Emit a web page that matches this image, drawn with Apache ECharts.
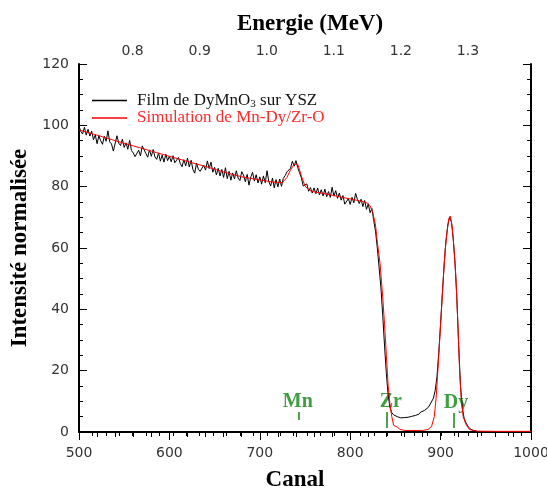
<!DOCTYPE html>
<html><head><meta charset="utf-8">
<script src="https://cdn.jsdelivr.net/npm/echarts@6/dist/echarts.min.js"></script>
<style>html,body{margin:0;padding:0;background:#fff}#c{width:547px;height:489px}</style>
</head><body><div id="c"></div>
<script>
// ---- data ----
const expName = 'Film de DyMnO3 sur YSZ';
const simName = 'Simulation de Mn-Dy/Zr-O';
const expStartChannel = 500;
const expChannelStep = 2;
const expIntensity = [
  99.8, 98.0, 97.2, 99.4, 96.8, 98.7, 96.5, 98.1, 95.3, 96.9, 94.0, 96.6, 95.0, 93.8, 96.4, 94.8,
  98.2, 94.6, 93.9, 91.6, 91.0, 96.6, 94.2, 93.4, 95.5, 92.8, 94.3, 92.2, 95.1, 91.8, 91.0,
  89.8, 89.4, 91.9, 90.0, 93.3, 92.9, 90.8, 89.6, 92.0, 89.9, 92.1, 89.7, 88.9, 91.0, 88.3, 90.3, 88.0, 90.6, 88.5, 89.9,
  88.1, 90.1, 87.8, 87.2, 89.5, 87.6, 86.5, 88.8, 86.8, 89.3, 86.4, 88.6, 85.6, 84.4, 87.7, 85.7, 85.0, 84.6, 87.0, 85.4,
  88.4, 85.9, 88.0, 84.7, 86.3, 83.8, 86.0, 83.5, 85.6, 83.0, 86.2, 82.6, 85.0, 82.1, 84.5, 82.5, 85.2, 82.8, 82.0, 84.9,
  83.8, 81.6, 84.0, 80.5, 83.1, 84.7, 81.8, 83.9, 81.2, 83.2, 80.8, 83.5, 81.3, 85.2, 81.6, 80.2, 82.8, 79.6, 82.3, 79.9, 82.5, 80.1, 82.7, 83.6, 84.8,
  84.3, 86.0, 88.3, 86.7, 88.5, 86.2, 84.5, 82.9, 80.2, 79.7, 80.9, 78.5, 79.7, 77.9, 79.6,
  77.7, 79.5, 77.3, 79.0, 77.0, 79.2, 76.7, 78.4, 76.5, 79.8, 76.9, 78.7, 76.2, 77.9, 75.6, 77.1, 74.3, 73.7, 76.1, 74.2,
  76.5, 74.7, 77.8, 75.8, 74.5, 75.9, 73.5, 75.5, 72.6, 74.4, 71.5, 72.9, 69.0, 65.5, 60.0,
  53.5, 47, 38, 28, 19, 12, 8, 6.3, 5.6, 5.2,
  5.0, 4.9, 4.6, 4.9, 4.7, 5.0, 4.8, 5.3, 5.1, 5.6, 5.4, 6.0, 5.8, 6.5, 6.3, 7.0, 7.6, 7.9, 8.8, 9.4,
  11, 13.5, 18, 26, 35.5, 45.5, 55, 62.5, 67.5, 70.2, 68.5, 63, 55, 43.5, 28.5, 15, 8, 4.5, 3.0, 2.0, 1.2, 0.8, 0.5, 0.4, 0.3
];
const simChannels = [500, 520, 540, 560, 580, 600, 620, 640, 660, 680, 700, 715, 725, 730, 734, 738, 742, 746, 750, 755, 760, 770, 780, 790, 800, 810, 815, 819, 822, 825, 828, 830, 833, 836, 838, 840, 842, 844, 846, 848, 852, 855, 860, 880, 886, 890, 893, 895, 897, 899, 901, 903, 905, 907, 909, 911, 913, 915, 917, 919, 921, 923, 925, 928, 932, 940, 960, 1000];
const simIntensity = [98.5, 96.8, 95.0, 93.3, 91.6, 89.9, 88.2, 86.6, 84.8, 83.2, 82.2, 81.5, 81.3, 83.0, 85.5, 87.3, 87.3, 83.5, 80.2, 78.8, 78.3, 77.8, 77.2, 76.6, 76.0, 75.4, 75.1, 74.6, 73.8, 71.5, 67.5, 62, 55, 44, 35, 25, 15, 9, 5, 2.2, 1.6, 0.9, 0.5, 0.5, 0.8, 1.8, 5, 11, 20, 30, 40, 50, 59, 65, 69.5, 70.3, 66.5, 59, 50, 36, 20, 10, 5, 2.5, 0.8, 0.3, 0.2, 0.2];
const elementNames = ['Mn', 'Zr', 'Dy'];
const elementTickChannels = [742.6, 840.4, 914.8];
const elementTickLow = [3.9, 1.3, 1.3];
const elementTickHigh = [6.5, 6.5, 6.2];
const elementLabelChannels = [742, 845, 917];
const channelTicksMin = 500, channelTicksMax = 1000, channelTickStep = 100;
const intensityMin = 0, intensityMax = 120, intensityStep = 20;
const energyMin = 0.72, energyMax = 1.394;
const energyLabels = [0.8, 0.9, 1.0, 1.1, 1.2, 1.3];
const energyTicks = [0.72, 0.74, 0.76, 0.78, 0.80, 0.82, 0.84, 0.86, 0.88, 0.90, 0.92, 0.94, 0.96, 0.98, 1.00, 1.02, 1.04, 1.06, 1.08, 1.10, 1.12, 1.14, 1.16, 1.18, 1.20, 1.22, 1.24, 1.26, 1.28, 1.30, 1.32, 1.34, 1.36, 1.38];

// ---- chart ----
const serif = '"Liberation Serif","Times New Roman",serif';
const sans = '"DejaVu Sans",Verdana,sans-serif';
const tickLabel = { fontFamily: sans, fontSize: 14, color: '#333' };
const nameStyle = { fontFamily: serif, fontSize: 23, fontWeight: 'bold', color: '#000' };
const green = '#128512';
const black = '#000';

const chart = echarts.init(document.getElementById('c'), null, { renderer: 'canvas' });
chart.setOption({
  animation: false,
  backgroundColor: '#fff',
  grid: { left: 79, right: 16, top: 64, bottom: 57, containLabel: false, outerBoundsMode: 'none' },
  legend: {
    left: 87, top: 87, orient: 'vertical', icon: 'rect',
    itemWidth: 35, itemHeight: 1.5, itemGap: 0,
    formatter: n => n.replace('O3', 'O{sub|3}'),
    textStyle: {
      fontFamily: serif, fontSize: 17, padding: [0, 0, 0, 5],
      rich: { sub: { fontFamily: serif, fontSize: 11, color: '#111', padding: [7, 0, 0, 0] } }
    },
    data: [
      { name: expName, textStyle: { color: '#111' } },
      { name: simName, textStyle: { color: '#ff2a2a' } }
    ]
  },
  xAxis: [
    {
      type: 'value', position: 'bottom', min: channelTicksMin, max: channelTicksMax, interval: channelTickStep,
      name: 'Canal', nameLocation: 'middle', nameGap: 37,
      nameTextStyle: Object.assign({ padding: [0, 20, 0, 0] }, nameStyle),
      axisLine: { show: true, lineStyle: { color: black, width: 2 } },
      axisTick: { show: true, inside: false, length: 8, lineStyle: { color: black } },
      minorTick: { show: true, splitNumber: 5, length: 5, lineStyle: { color: black } },
      axisLabel: Object.assign({ margin: 14, formatter: v => String(v) }, tickLabel),
      splitLine: { show: false }
    },
    {
      type: 'value', position: 'top', min: energyMin, max: energyMax,
      name: 'Energie (MeV)', nameLocation: 'middle', nameGap: 28,
      nameTextStyle: Object.assign({ padding: [0, 0, 0, 10] }, nameStyle),
      axisLine: { show: true, lineStyle: { color: black, width: 2 } },
      axisTick: { show: true, inside: true, length: 4, customValues: energyTicks, lineStyle: { color: black } },
      axisLabel: Object.assign({ margin: 6, customValues: energyLabels, formatter: v => v.toFixed(1) }, tickLabel),
      splitLine: { show: false }
    }
  ],
  yAxis: [
    {
      type: 'value', position: 'left', min: intensityMin, max: intensityMax, interval: intensityStep,
      name: 'Intensité normalisée', nameLocation: 'middle', nameGap: 45, nameTextStyle: nameStyle,
      axisLine: { show: true, lineStyle: { color: black, width: 2 } },
      axisTick: { show: true, inside: true, length: 8, lineStyle: { color: black } },
      minorTick: { show: true, splitNumber: 4, length: 4, lineStyle: { color: black } },
      axisLabel: Object.assign({ margin: 10 }, tickLabel),
      splitLine: { show: false }
    },
    {
      type: 'value', position: 'right', min: intensityMin, max: intensityMax, interval: intensityStep,
      axisLine: { show: true, lineStyle: { color: black, width: 2 } },
      axisTick: { show: true, inside: true, length: 8, lineStyle: { color: black } },
      minorTick: { show: true, splitNumber: 4, length: 4, lineStyle: { color: black } },
      axisLabel: { show: false },
      splitLine: { show: false }
    }
  ],
  series: [
    {
      name: expName, type: 'line', xAxisIndex: 0, yAxisIndex: 0,
      symbol: 'none', sampling: null, color: '#000',
      lineStyle: { color: '#000', width: 1 },
      data: expIntensity.map((v, i) => [expStartChannel + i * expChannelStep, v])
    },
    {
      name: simName, type: 'line', xAxisIndex: 0, yAxisIndex: 0,
      symbol: 'none', color: '#ff0000',
      lineStyle: { color: '#ff0000', width: 1 },
      data: simChannels.map((c, i) => [c, simIntensity[i]])
    },
    {
      name: 'elements', type: 'scatter', xAxisIndex: 0, yAxisIndex: 0,
      symbolSize: 1, itemStyle: { color: 'rgba(0,0,0,0)' }, silent: true,
      label: {
        show: true, position: 'top', distance: 0,
        formatter: p => elementNames[p.dataIndex],
        fontFamily: serif, fontWeight: 'bold', fontSize: 20, color: green
      },
      data: elementLabelChannels.map((c, i) => [c, elementTickHigh[i]]),
      markLine: {
        silent: true, symbol: ['none', 'none'], animation: false,
        label: { show: false },
        lineStyle: { color: green, width: 1.5, type: 'solid' },
        data: elementTickChannels.map((c, i) => [
          { coord: [c, elementTickLow[i]] },
          { coord: [c, elementTickHigh[i]] }
        ])
      }
    }
  ]
});
</script></body></html>
